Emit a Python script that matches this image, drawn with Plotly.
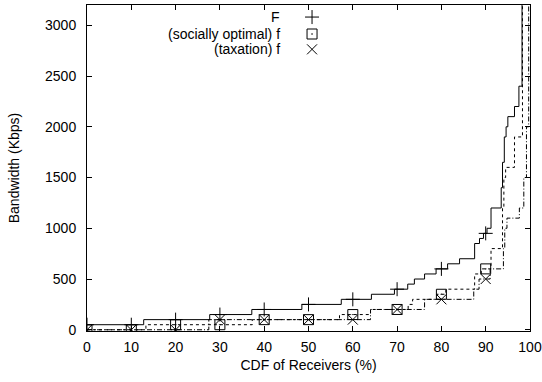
import plotly.graph_objects as go

# step curves: value holds from each x onwards (gnuplot "steps")
f_x = [0, 12.8, 27.7, 37.2, 48.5, 57.4, 64.2, 69.4, 72.4, 73.9, 76.2, 78.8, 81.4, 84.1,
       87.5, 88.6, 89.5, 90.3, 91.2, 93.5, 93.8, 94.2, 94.6, 95.0, 96.5, 97.5, 98.2]
f_y = [50, 100, 150, 200, 250, 300, 350, 400, 450, 500, 550, 600, 650, 700,
       850, 900, 950, 1000, 1200, 1400, 1650, 1900, 2000, 2100, 2200, 2400, 3300]

social_x = [0, 13.3, 37.3, 57.0, 64.0, 72.5, 73.5, 79.0, 81.0, 87.5, 89.0, 91.2,
            93.8, 94.1, 94.5, 96.5, 98.3]
social_y = [0, 50, 100, 150, 200, 250, 300, 350, 400, 550, 600, 800,
            1200, 1500, 1600, 1900, 3300]

tax_x = [0, 27.5, 64.0, 76.2, 87.3, 88.5, 91.0, 94.0, 94.3, 94.8, 97.6, 98.6, 99.2, 99.7]
tax_y = [0, 100, 200, 300, 400, 500, 600, 800, 1000, 1100, 1200, 1500, 2000, 3300]

# point samples every 10 %
mark_x = [0, 10, 20, 30, 40, 50, 60, 70, 80, 90]
f_mark = [50, 50, 100, 150, 200, 250, 300, 400, 600, 950]
social_mark = [0, 0, 50, 50, 100, 100, 150, 200, 350, 600]
tax_mark = [0, 0, 0, 100, 100, 100, 100, 200, 300, 500]

labels = ["F", "(socially optimal) f", "(taxation) f"]
symbols = ["cross-thin-open", "square-open-dot", "x-thin-open"]
dashes = ["solid", "dot", "5px,2px,1px,2px"]

FONT = dict(family="Liberation Sans, Arial, sans-serif", size=14, color="black")

fig = go.Figure()
series = [(f_x, f_y, f_mark), (social_x, social_y, social_mark), (tax_x, tax_y, tax_mark)]
for (xs, ys, ms), dash, sym in zip(series, dashes, symbols):
    fig.add_trace(go.Scatter(x=xs, y=ys, mode="lines", line_shape="hv",
                             line=dict(color="black", width=1, dash=dash),
                             showlegend=False, hoverinfo="skip"))
    fig.add_trace(go.Scatter(x=mark_x, y=ms, mode="markers",
                             marker=dict(symbol=sym, size=10, color="black",
                                         line=dict(color="black", width=1)),
                             showlegend=False))

# gnuplot-style key: text right aligned, symbol to the right
key_y = [0.963, 0.911, 0.864]
fig.add_trace(go.Scatter(x=[0.508] * 3, y=key_y, mode="markers", xaxis="x2", yaxis="y2",
                         marker=dict(symbol=symbols, size=10, color="black",
                                     line=dict(color="black", width=1)),
                         showlegend=False, hoverinfo="skip"))
for lab, ky in zip(labels, key_y):
    fig.add_annotation(x=0.44, y=ky, xref="x2", yref="y2", text=lab, showarrow=False,
                       xanchor="right", yanchor="middle", font=FONT)

axis_common = dict(showline=True, linecolor="black", linewidth=1, mirror="ticks",
                   ticks="inside", ticklen=5, tickcolor="black", showgrid=False,
                   zeroline=False, tickfont=FONT, automargin=False)
fig.update_layout(
    width=542, height=382,
    margin=dict(l=87, r=12, t=5, b=51),
    paper_bgcolor="white", plot_bgcolor="white",
    font=FONT,
    xaxis=dict(range=[0, 100], tickvals=list(range(0, 101, 10)), ticklabelstandoff=3,
               title=dict(text="CDF of Receivers (%)", font=FONT, standoff=6),
               **axis_common),
    yaxis=dict(range=[-12, 3200], tickvals=list(range(0, 3001, 500)), ticklabelstandoff=7,
               title=dict(text="Bandwidth (Kbps)", font=FONT, standoff=22),
               **axis_common),
    xaxis2=dict(range=[0, 1], overlaying="x", visible=False),
    yaxis2=dict(range=[0, 1], overlaying="y", visible=False),
)

# drop the default page margin so the figure sits at the window's corner
fig.write_html("out.html", config={"displayModeBar": False},
               post_script="document.body.style.margin='0';")
